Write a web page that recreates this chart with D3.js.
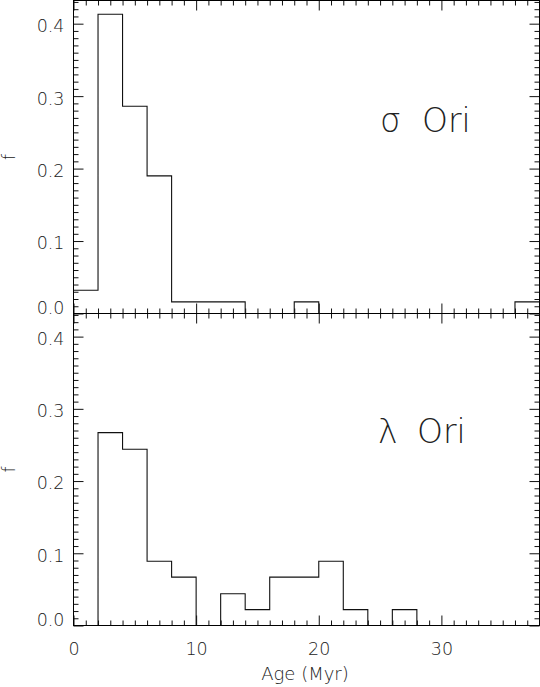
<!DOCTYPE html>
<html>
<head>
<meta charset="utf-8">
<script src="https://cdn.jsdelivr.net/npm/d3@7"></script>
<style>
  html, body { margin: 0; padding: 0; background: #fff; }
  svg { display: block; }
  text { font-family: "DejaVu Sans", "Liberation Sans", sans-serif; font-weight: 200; fill: #222; }
</style>
</head>
<body>
<svg id="chart" width="540" height="687"></svg>
<script>
// ---- Data ----
const ageBinEdges = [0, 2, 4, 6, 8, 10, 12, 14, 16, 18, 20, 22, 24, 26, 28, 30, 32, 34, 36, 38];
const sigmaOriFrac = [0.032, 0.413, 0.286, 0.190, 0.016, 0.016, 0.016, 0, 0, 0.016, 0, 0, 0, 0, 0, 0, 0, 0, 0.016];
const lambdaOriFrac = [0, 0.267, 0.244, 0.089, 0.067, 0, 0.044, 0.022, 0.067, 0.067, 0.089, 0.022, 0, 0.022, 0, 0, 0, 0, 0];
const xMajorTicks = [0, 10, 20, 30];
const yMajorTicks = [0.0, 0.1, 0.2, 0.3, 0.4];
const panelLabels = [["σ", "Ori"], ["λ", "Ori"]];
const xTitle = "Age (Myr)";
const yTitle = "f";

// ---- Layout ----
const svg = d3.select("#chart");
const xL = 73.5, xR = 539.5;
const panels = [
  { top: 0.5, bottom: 313.5, values: sigmaOriFrac, label: panelLabels[0], lx: 380, lx2: 422, ly: 132, showX: false },
  { top: 313.5, bottom: 625.5, values: lambdaOriFrac, label: panelLabels[1], lx: 378, lx2: 417, ly: 443, showX: true }
];

const x = d3.scaleLinear().domain([0, 38]).range([xL, xR]);
const xMinor = d3.range(0, 39, 1).filter(v => v % 10 !== 0);
const yMinorVals = d3.range(0, 44).map(i => i / 100).filter(v => Math.round(v * 100) % 10 !== 0);

const fontSize = 17.5;

panels.forEach(p => {
  const y = d3.scaleLinear().domain([0, 0.432]).range([p.bottom, p.top]);
  const g = svg.append("g");

  // Histogram outline
  const pts = p.values.map((v, i) => [ageBinEdges[i], v]);
  pts.push([ageBinEdges[ageBinEdges.length - 1], p.values[p.values.length - 1]]);
  const line = d3.line().x(d => x(d[0])).y(d => y(d[1])).curve(d3.curveStepAfter);
  g.append("path").attr("d", line(pts)).attr("fill", "none").attr("stroke", "#111").attr("stroke-width", 1.1);

  function styleAxis(sel) {
    sel.select(".domain").remove();
    sel.selectAll(".tick line").attr("stroke", "#111").attr("stroke-width", 1);
    sel.selectAll("text").attr("font-family", null).attr("font-size", fontSize).attr("fill", "#222");
  }

  // Left axis (labels)
  const left = g.append("g").attr("transform", `translate(${xL},0)`)
    .call(d3.axisLeft(y).tickValues(yMajorTicks).tickSize(-10).tickPadding(9).tickFormat(d3.format(".1f")));
  styleAxis(left);
  left.selectAll(".tick text").attr("dy", d => d === 0 ? "-0.0em" : "0.45em");
  g.append("g").attr("transform", `translate(${xL},0)`)
    .call(d3.axisLeft(y).tickValues(yMinorVals).tickSize(-5).tickFormat(""))
    .call(styleAxis);

  // Right axis
  g.append("g").attr("transform", `translate(${xR},0)`)
    .call(d3.axisRight(y).tickValues(yMajorTicks).tickSize(-10).tickFormat(""))
    .call(styleAxis);
  g.append("g").attr("transform", `translate(${xR},0)`)
    .call(d3.axisRight(y).tickValues(yMinorVals).tickSize(-5).tickFormat(""))
    .call(styleAxis);

  // Top axis
  g.append("g").attr("transform", `translate(0,${p.top})`)
    .call(d3.axisTop(x).tickValues(xMajorTicks).tickSize(-10).tickFormat(""))
    .call(styleAxis);
  g.append("g").attr("transform", `translate(0,${p.top})`)
    .call(d3.axisTop(x).tickValues(xMinor).tickSize(-5).tickFormat(""))
    .call(styleAxis);

  // Bottom axis
  g.append("g").attr("transform", `translate(0,${p.bottom})`)
    .call(d3.axisBottom(x).tickValues(xMajorTicks).tickSize(-10).tickPadding(17)
      .tickFormat(p.showX ? d3.format("d") : ""))
    .call(styleAxis);
  g.append("g").attr("transform", `translate(0,${p.bottom})`)
    .call(d3.axisBottom(x).tickValues(xMinor).tickSize(-5).tickFormat(""))
    .call(styleAxis);

  // Frame
  g.append("rect").attr("x", xL).attr("y", p.top).attr("width", xR - xL).attr("height", p.bottom - p.top)
    .attr("fill", "none").attr("stroke", "#000").attr("stroke-width", 1);

  // Panel label
  const t = g.append("text").attr("y", p.ly).attr("font-size", 33);
  t.append("tspan").attr("x", p.lx).text(p.label[0]);
  t.append("tspan").attr("x", p.lx2).text(p.label[1]);

  // y title
  g.append("text")
    .attr("transform", `translate(15,${(p.top + p.bottom) / 2}) rotate(-90)`)
    .attr("text-anchor", "middle").attr("font-size", 17).text(yTitle);
});

// x title
svg.append("text").attr("x", 305).attr("y", 680).attr("text-anchor", "middle")
  .attr("font-size", 18).text(xTitle);
</script>
</body>
</html>
